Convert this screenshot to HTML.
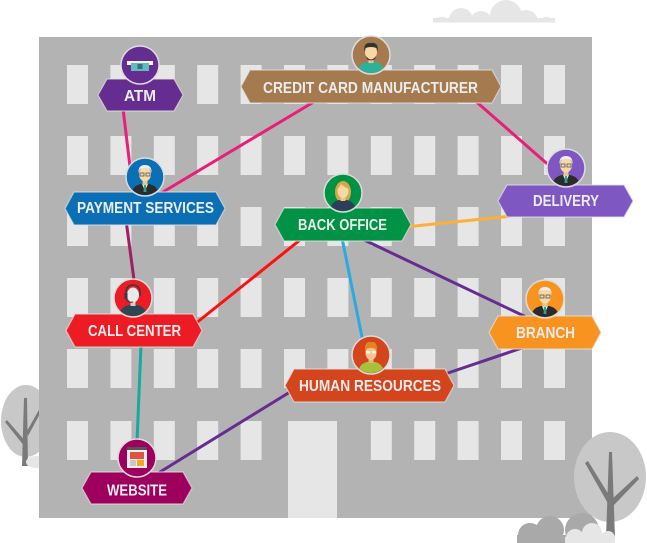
<!DOCTYPE html>
<html><head><meta charset="utf-8"><style>
html,body{margin:0;padding:0;background:#fff;}
svg{display:block;}
text{font-family:"Liberation Sans",sans-serif;font-weight:bold;fill:#ececec;}
</style></head><body>
<svg width="647" height="543" viewBox="0 0 647 543" xmlns="http://www.w3.org/2000/svg">
<defs>
<clipPath id="c" clipPathUnits="userSpaceOnUse"><circle cx="0" cy="0" r="18"/></clipPath>
<clipPath id="cl" clipPathUnits="userSpaceOnUse"><rect x="420" y="0" width="150" height="22.5"/></clipPath>
</defs>
<!-- top cloud -->
<g fill="#e6e6e6" clip-path="url(#cl)">
<ellipse cx="442" cy="24" rx="9" ry="7"/><circle cx="461" cy="20" r="12"/><circle cx="481" cy="22" r="11"/><circle cx="506" cy="16" r="16"/><circle cx="526" cy="22" r="12"/><ellipse cx="546" cy="24" rx="9" ry="7"/>
<rect x="433" y="18" width="122" height="5"/>
</g>
<!-- left tree (behind building) -->
<ellipse cx="26" cy="421" rx="25" ry="36" fill="#c8c8c8"/>
<polygon points="24,398 27,398 28,466 22,466" fill="#7a7a7a"/>
<polygon points="5,422 7,420 26,442 25,447" fill="#7a7a7a"/>
<polygon points="40,408 42,410 28,436 27,431" fill="#7a7a7a"/>
<ellipse cx="36" cy="462" rx="10" ry="6" fill="#e6e6e6"/>
<!-- building -->
<rect x="39" y="37" width="553" height="481" fill="#b3b3b3"/>
<g fill="#e6e6e6">
<g id="row">
<rect x="67" y="65" width="21" height="39"/><rect x="110.4" y="65" width="21" height="39"/><rect x="153.8" y="65" width="21" height="39"/><rect x="197.2" y="65" width="21" height="39"/><rect x="240.6" y="65" width="21" height="39"/><rect x="284" y="65" width="21" height="39"/><rect x="327.4" y="65" width="21" height="39"/><rect x="370.8" y="65" width="21" height="39"/><rect x="414.2" y="65" width="21" height="39"/><rect x="457.6" y="65" width="21" height="39"/><rect x="501" y="65" width="21" height="39"/><rect x="544" y="65" width="21" height="39"/>
</g>
<use href="#row" y="71"/>
<use href="#row" y="142"/>
<use href="#row" y="213"/>
<use href="#row" y="284"/>
<rect x="67" y="421" width="21" height="39"/><rect x="110.4" y="421" width="21" height="39"/><rect x="153.8" y="421" width="21" height="39"/><rect x="197.2" y="421" width="21" height="39"/><rect x="240.6" y="421" width="21" height="39"/><rect x="370.8" y="421" width="21" height="39"/><rect x="414.2" y="421" width="21" height="39"/><rect x="457.6" y="421" width="21" height="39"/><rect x="501" y="421" width="21" height="39"/><rect x="544" y="421" width="21" height="39"/>
<rect x="288" y="421" width="49" height="97"/>
</g>
<!-- right tree -->
<ellipse cx="610" cy="477" rx="36" ry="45" fill="#c8c8c8"/>
<polygon points="609,452 612,452 615,538 606,538" fill="#7a7a7a"/>
<polygon points="585,463 588,461 612,500 610,507" fill="#7a7a7a"/>
<polygon points="637,476 639,479 613,506 611,500" fill="#7a7a7a"/>
<!-- bottom right clouds -->
<g fill="#a9a9a9">
<circle cx="530" cy="535" r="12"/><circle cx="550" cy="530" r="14"/><circle cx="582" cy="530" r="17"/><rect x="517" y="535" width="95" height="8"/>
</g>
<g fill="#e6e6e6">
<circle cx="575" cy="538" r="9"/><circle cx="592" cy="533" r="10"/><circle cx="608" cy="538" r="7"/><rect x="565" y="537" width="50" height="6"/>
</g>
<!-- connectors -->
<g stroke-width="3" fill="none" stroke-linecap="round">
<line x1="122" y1="100" x2="131" y2="175" stroke="#e91e78"/>
<line x1="317" y1="100" x2="158" y2="195" stroke="#e91e78"/>
<line x1="472" y1="98" x2="552" y2="168" stroke="#e91e78"/>
<line x1="126" y1="220" x2="136" y2="295" stroke="#9e1f63"/>
<line x1="405" y1="227" x2="512" y2="216" stroke="#fbb03b"/>
<line x1="300" y1="240" x2="195" y2="324" stroke="#ff1010"/>
<line x1="342" y1="238" x2="363" y2="342" stroke="#29abe2"/>
<line x1="360" y1="238" x2="524" y2="316" stroke="#662d91"/>
<line x1="445" y1="374" x2="522" y2="348" stroke="#662d91"/>
<line x1="290" y1="392" x2="160" y2="472" stroke="#662d91"/>
<line x1="141" y1="345" x2="137" y2="442" stroke="#17a99a"/>
</g>
<!-- nodes: hexagons -->
<g stroke="#e2e2e2" stroke-opacity="0.7" stroke-width="1.2">
<polygon points="98,95 107,79 174,79 183,95 174,111 107,111" fill="#662d91"/>
<polygon points="65,208.5 74,192 216,192 225,208.5 216,225 74,225" fill="#0b6fb6"/>
<polygon points="241,86.5 250,70 492,70 501,86.5 492,103 250,103" fill="#a67a4f"/>
<polygon points="498,201 507,185 624,185 633,201 624,217 507,217" fill="#7e57c2"/>
<polygon points="275,224.5 284,208 402,208 411,224.5 402,241 284,241" fill="#009245"/>
<polygon points="489,332.5 498,316 592,316 601,332.5 592,349 498,349" fill="#f7931e"/>
<polygon points="66,330.5 75,314 193,314 202,330.5 193,347 75,347" fill="#ed1c24"/>
<polygon points="82,488 91,472 183,472 192,488 183,504 91,504" fill="#9e005d"/>
<polygon points="285,385.5 294,369 445,369 454,385.5 445,402 294,402" fill="#d4451d"/>
</g>
<!-- labels -->
<text x="124" y="101" font-size="15.5" textLength="32" lengthAdjust="spacingAndGlyphs">ATM</text>
<text x="77" y="213" font-size="15.5" textLength="137" lengthAdjust="spacingAndGlyphs">PAYMENT SERVICES</text>
<text x="263" y="93" font-size="15.5" textLength="215" lengthAdjust="spacingAndGlyphs">CREDIT CARD MANUFACTURER</text>
<text x="533" y="206" font-size="15.5" textLength="66" lengthAdjust="spacingAndGlyphs">DELIVERY</text>
<text x="298" y="230" font-size="15.5" textLength="89" lengthAdjust="spacingAndGlyphs">BACK OFFICE</text>
<text x="516" y="338" font-size="15.5" textLength="59" lengthAdjust="spacingAndGlyphs">BRANCH</text>
<text x="88" y="336" font-size="15.5" textLength="93" lengthAdjust="spacingAndGlyphs">CALL CENTER</text>
<text x="107" y="495.5" font-size="15.5" textLength="60" lengthAdjust="spacingAndGlyphs">WEBSITE</text>
<text x="299" y="391" font-size="15.5" textLength="142" lengthAdjust="spacingAndGlyphs">HUMAN RESOURCES</text>

<!-- ATM -->
<g transform="translate(140,65)">
<circle r="19" fill="#662d91" stroke="#dcdcdc" stroke-width="1.5"/>
<rect x="-13" y="-4" width="26" height="4" fill="#f2f2f2"/>
<rect x="-9" y="-2" width="18" height="8" fill="#5fbcbc"/>
<rect x="-2.5" y="-1" width="5" height="5" fill="#3b6f7a"/>
</g>
<!-- Payment services -->
<g transform="translate(145,177)">
<circle r="19" fill="#0b6fb6" stroke="#dcdcdc" stroke-width="1.5"/>
<g clip-path="url(#c)">
<path d="M-14 20 Q-14 9 -4 7 L4 7 Q14 9 14 20 Z" fill="#2b2b2b"/>
<polygon points="-3,7 3,7 0,14" fill="#f2f2f2"/>
<polygon points="-1,8 1,8 1.5,15 -1.5,15" fill="#2aa198"/>
<rect x="-2.5" y="2" width="5" height="6" fill="#e8c690"/>
<ellipse cx="0" cy="-3" rx="6" ry="7.5" fill="#f7d9a8"/>
<path d="M-6.5 -4 Q-7 -12 0 -12 Q7 -12 6.5 -4 L5 -8 Q0 -10 -5 -8 Z" fill="#eeeeee"/>
<rect x="-5" y="-4" width="4" height="3" fill="none" stroke="#555" stroke-width="0.8"/>
<rect x="1" y="-4" width="4" height="3" fill="none" stroke="#555" stroke-width="0.8"/>
</g>
</g>
<!-- Credit card manufacturer -->
<g transform="translate(371,55)">
<circle r="19" fill="#a67a4f" stroke="#dcdcdc" stroke-width="1.5"/>
<g clip-path="url(#c)">
<path d="M-14 20 Q-14 9 -4 7 L4 7 Q14 9 14 20 Z" fill="#2bb39a"/>
<rect x="-2.5" y="2" width="5" height="6" fill="#e8c690"/>
<ellipse cx="0" cy="-3" rx="6" ry="7.5" fill="#f7d9a8"/>
<path d="M-6.5 -3 Q-8 -13 0 -12 Q8 -13 6.5 -3 L5.5 -7 Q0 -9 -5.5 -7 Z" fill="#333"/>
<path d="M-5 1 Q0 8 5 1 L4 4 Q0 7 -4 4 Z" fill="#333"/>
</g>
</g>
<!-- Delivery -->
<g transform="translate(566,168)">
<circle r="19" fill="#7e57c2" stroke="#dcdcdc" stroke-width="1.5"/>
<g clip-path="url(#c)">
<path d="M-14 20 Q-14 9 -4 7 L4 7 Q14 9 14 20 Z" fill="#2b2b2b"/>
<polygon points="-3,7 3,7 0,14" fill="#f2f2f2"/>
<polygon points="-1,8 1,8 1.5,15 -1.5,15" fill="#2aa198"/>
<rect x="-2.5" y="2" width="5" height="6" fill="#e8c690"/>
<ellipse cx="0" cy="-3" rx="6" ry="7.5" fill="#f7d9a8"/>
<path d="M-6.5 -4 Q-7 -12 0 -12 Q7 -12 6.5 -4 L5 -8 Q0 -10 -5 -8 Z" fill="#eeeeee"/>
<rect x="-5" y="-4" width="4" height="3" fill="none" stroke="#555" stroke-width="0.8"/>
<rect x="1" y="-4" width="4" height="3" fill="none" stroke="#555" stroke-width="0.8"/>
</g>
</g>
<!-- Back office -->
<g transform="translate(343,193)">
<circle r="19" fill="#009245" stroke="#dcdcdc" stroke-width="1.5"/>
<g clip-path="url(#c)">
<ellipse cx="0" cy="-1" rx="8" ry="11" fill="#d9a645"/>
<path d="M-13 20 Q-13 9 -4 7 L4 7 Q13 9 13 20 Z" fill="#2c3e5a"/>
<rect x="-2.5" y="2" width="5" height="6" fill="#e8c690"/>
<ellipse cx="0" cy="-2" rx="5.5" ry="7" fill="#f7d9a8"/>
<path d="M-6 -3 Q-6 -12 1 -11 Q6 -10 6 -4 Q1 -6 -2 -9 Q-4 -5 -6 -3 Z" fill="#d9a645"/>
</g>
</g>
<!-- Branch -->
<g transform="translate(545,299)">
<circle r="19" fill="#f7931e" stroke="#dcdcdc" stroke-width="1.5"/>
<g clip-path="url(#c)">
<path d="M-14 20 Q-14 9 -4 7 L4 7 Q14 9 14 20 Z" fill="#2b2b2b"/>
<polygon points="-3,7 3,7 0,14" fill="#f2f2f2"/>
<polygon points="-1,8 1,8 1.5,15 -1.5,15" fill="#2aa198"/>
<rect x="-2.5" y="2" width="5" height="6" fill="#e8c690"/>
<ellipse cx="0" cy="-3" rx="6" ry="7.5" fill="#f7d9a8"/>
<path d="M-6.5 -4 Q-7 -12 0 -12 Q7 -12 6.5 -4 L5 -8 Q0 -10 -5 -8 Z" fill="#eeeeee"/>
<rect x="-5" y="-4" width="4" height="3" fill="none" stroke="#555" stroke-width="0.8"/>
<rect x="1" y="-4" width="4" height="3" fill="none" stroke="#555" stroke-width="0.8"/>
</g>
</g>
<!-- Call center -->
<g transform="translate(133,298)">
<circle r="19" fill="#ed1c24" stroke="#dcdcdc" stroke-width="1.5"/>
<g clip-path="url(#c)">
<path d="M-14 20 Q-14 9 -4 7 L4 7 Q14 9 14 20 Z" fill="#2c4654"/>
<rect x="-2.5" y="2" width="5" height="6" fill="#cfcfcf"/>
<ellipse cx="0" cy="-3" rx="6" ry="7.5" fill="#eaeaea"/>
<path d="M-7 -2 Q-8 -13 0 -13 Q8 -13 7 -2" fill="none" stroke="#2c3e4a" stroke-width="1.6"/>
<rect x="-8.5" y="-5" width="3" height="6" fill="#2c3e4a"/>
<path d="M-7 1 Q-5 5 0 4" fill="none" stroke="#2c3e4a" stroke-width="1"/>
</g>
</g>
<!-- Website -->
<g transform="translate(137,458)">
<circle r="19" fill="#9e005d" stroke="#dcdcdc" stroke-width="1.5"/>
<rect x="-10" y="-11" width="20" height="21" fill="#eeeeee"/>
<rect x="-10" y="-11" width="20" height="3" fill="#555"/>
<rect x="-7" y="-6" width="14" height="7" fill="#e0533c"/>
<rect x="-7" y="2" width="6" height="6" fill="#c9c9c9"/>
<rect x="0" y="2" width="7" height="6" fill="#f6a623"/>
</g>
<!-- Human resources -->
<g transform="translate(371,355)">
<circle r="19" fill="#d4451d" stroke="#dcdcdc" stroke-width="1.5"/>
<g clip-path="url(#c)">
<path d="M-13 20 Q-13 9 -4 7 L4 7 Q13 9 13 20 Z" fill="#a5c23a"/>
<rect x="-2.5" y="2" width="5" height="6" fill="#e8b47a"/>
<ellipse cx="0" cy="-2" rx="5.5" ry="7" fill="#f5c48f"/>
<path d="M-6 -3 Q-7 -14 0 -13 Q7 -14 6 -3 L5 -6 Q0 -8 -5 -6 Z" fill="#e8821e"/>
<rect x="-5" y="-4" width="4" height="2.5" fill="#f2f2f2"/>
<rect x="1" y="-4" width="4" height="2.5" fill="#f2f2f2"/>
</g>
</g>
</svg>
</body></html>
